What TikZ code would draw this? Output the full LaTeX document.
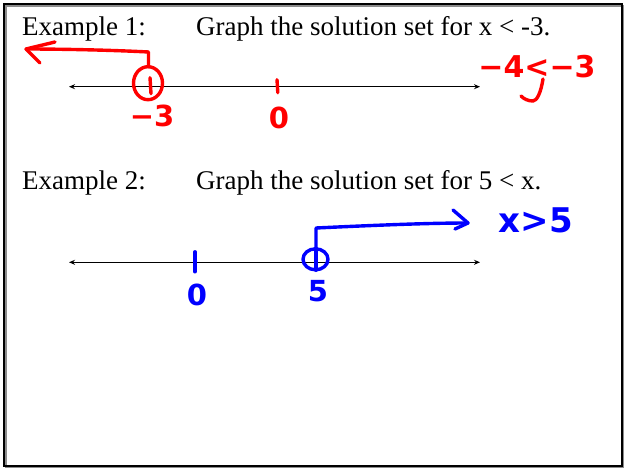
\documentclass[tikz,border=0pt]{standalone}
\usepackage{fontspec}
\setmainfont{Liberation Serif}
\newfontfamily\handfont{DejaVu Sans}
\usetikzlibrary{arrows.meta,positioning,calc}
\definecolor{penred}{RGB}{255,0,0}
\definecolor{penblue}{RGB}{0,0,255}

\begin{document}
\begin{tikzpicture}[x=1pt,y=-1pt,
  heading/.style={anchor=base west,inner sep=0pt,font=\fontsize{27}{30}\selectfont},
  numline/.style={{Stealth[length=6pt,width=5pt]}-{Stealth[length=6pt,width=5pt]},line width=1.1pt},
  redpen/.style={penred,line width=3.4pt,line cap=round,line join=round},
  bluepen/.style={penblue,line width=3.4pt,line cap=round,line join=round},
  hand/.style={inner sep=0pt,font=\handfont\bfseries\fontsize{29}{31}\selectfont}]
\useasboundingbox (0,0) rectangle (624,468);
% frame
\draw[black!45,line width=1.5pt] (6,6) rectangle (623,467.5);
\draw[line width=2pt] (4.3,4) rectangle (621.7,466);

% example 1
\node[heading] (ex1) at (22,35.5) {Example 1:};
\node[heading] (task1) at (196,35.5) {Graph the solution set for x < -3.};
\coordinate (a1) at (69,86.7);
\coordinate (b1) at (480,86.7);
\draw[numline] (a1) -- (b1);

\coordinate (zero1) at (277,86.7);
\coordinate (mthree) at (150,86.7);
\path[redpen]
(zero1) ++(0,-7) edge ++(0.8,13)
(mthree) ++(0,-9) edge ++(1,16)
;
\draw[redpen] ($(mthree)+(-2,-3.5)$) ellipse [x radius=14.5, y radius=16.5];
\node[hand,penred] (lzero1) at (279,117.5) {0};
\node[hand,penred] (lmthree) at (152,116) {−3};
% solution ray, left
\coordinate (up1) at (148.5,52);
\coordinate (tip1) at (26,49);
\draw[redpen] ($(mthree)+(-1.5,-20)$) -- (up1) .. controls (110,50) and (60,49) .. (tip1);
\path[redpen]
(tip1) edge (55,42)
(tip1) edge (40,63)
;
\node[hand,penred,font=\handfont\bfseries\fontsize{30}{32}\selectfont] (cmp1) at (537,67) {−4<−3};
\draw[redpen] (543,79) .. controls (541,92) and (537,101) .. (533,101) .. controls (528,101) and (524,99) .. (521,96);

% example 2
\node[heading] (ex2) at (22,189.5) {Example 2:};
\node[heading] (task2) at (196,189.5) {Graph the solution set for 5 < x.};
\coordinate (a2) at (69,262.3);
\coordinate (b2) at (480,262.3);
\draw[numline] (a2) -- (b2);

\coordinate (zero2) at (195,262.3);
\coordinate (five) at (316,262.3);
\path[bluepen]
(zero2) ++(0,-10.5) edge ++(0,20)
(five) ++(0,-14) edge ++(0,22)
;
\draw[bluepen] ($(five)+(-0.5,-3)$) ellipse [x radius=12.5, y radius=10.5];
\node[hand,penblue] (lzero2) at (197,294.5) {0};
\node[hand,penblue] (lfive) at (318,291.5) {5};
% solution ray, right
\coordinate (up2) at (316,228);
\coordinate (tip2) at (468,223);
\draw[bluepen] ($(five)+(0,-14)$) -- (up2) .. controls (380,225) and (430,223) .. (tip2);
\path[bluepen]
(tip2) edge (453,210)
(tip2) edge (455,229)
;
\node[hand,penblue,font=\handfont\bfseries\fontsize{34}{36}\selectfont] (cmp2) at (536,220) {x>5};
\end{tikzpicture}
\end{document}
